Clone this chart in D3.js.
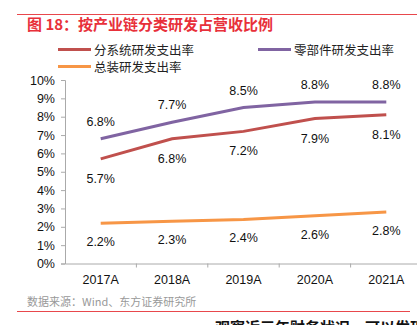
<!DOCTYPE html>
<html>
<head>
<meta charset="utf-8">
<script src="https://cdn.jsdelivr.net/npm/d3@7"></script>
<style>
  body { margin: 0; background: #fff; }
  svg { display: block; font-family: "Liberation Sans", Arial, "Noto Sans CJK SC", sans-serif; }
</style>
</head>
<body>
<svg width="417" height="325"></svg>
<script>
// chart data
const years = ["2017A", "2018A", "2019A", "2020A", "2021A"];
const subsystem = [5.7, 6.8, 7.2, 7.9, 8.1];   // 分系统研发支出率
const parts = [6.8, 7.7, 8.5, 8.8, 8.8];       // 零部件研发支出率
const assembly = [2.2, 2.3, 2.4, 2.6, 2.8];    // 总装研发支出率
const yTicks = d3.range(0, 11);

const series = [
  { name: "分系统研发支出率", values: subsystem, color: "#c0504d", dy: 20 },
  { name: "零部件研发支出率", values: parts, color: "#8064a2", dy: -17 },
  { name: "总装研发支出率", values: assembly, color: "#f79646", dy: 19 }
];

const svg = d3.select("svg");
const cjk = '"Noto Sans CJK SC", sans-serif';

// header / footer frame
svg.append("line").attr("x1", 17).attr("x2", 417).attr("y1", 14.5).attr("y2", 14.5)
  .attr("stroke", "#e8474c").attr("stroke-width", 1);
svg.append("text").attr("x", 27).attr("y", 30)
  .attr("fill", "#e8303a").attr("font-size", 15).attr("font-weight", "bold")
  .style("font-family", cjk)
  .text("图 18：按产业链分类研发占营收比例");

svg.append("text").attr("x", 27).attr("y", 306)
  .attr("fill", "#999").attr("font-size", 11).style("font-family", cjk)
  .text("数据来源：Wind、东方证券研究所");
svg.append("line").attr("x1", 17).attr("x2", 410).attr("y1", 311.5).attr("y2", 311.5)
  .attr("stroke", "#e8474c").attr("stroke-width", 1);
svg.append("text").attr("x", 215).attr("y", 333)
  .attr("fill", "#111").attr("font-size", 15).attr("font-weight", "bold")
  .style("font-family", cjk)
  .text("观察近三年财务状况，可以发现");

// scales
const x = d3.scaleBand().domain(years).range([65, 422]);
const y = d3.scaleLinear().domain([0, 10]).range([263.5, 80]);

// axes
const yAxis = svg.append("g").attr("transform", "translate(65,0)")
  .call(d3.axisLeft(y).tickValues(yTicks).tickFormat(d => d + "%").tickSize(4).tickPadding(6));
const xAxis = svg.append("g").attr("transform", "translate(0,263.5)")
  .call(d3.axisBottom(x).tickSize(0).tickPadding(12));
xAxis.selectAll(".tick")
  .append("line").attr("x1", x.bandwidth() / 2).attr("x2", x.bandwidth() / 2)
  .attr("y1", 0).attr("y2", 4);

svg.selectAll(".domain, .tick line").attr("stroke", "#aaa");
yAxis.selectAll("text").attr("font-size", 12.5).attr("fill", "#111")
  .style("font-family", "'Liberation Sans', Arial, sans-serif");
xAxis.selectAll("text").attr("font-size", 12.5).attr("fill", "#111")
  .style("font-family", "'Liberation Sans', Arial, sans-serif");

// lines and labels
const cx = d => x(d) + x.bandwidth() / 2;
const line = d3.line().x((v, i) => cx(years[i])).y(v => y(v));

series.forEach(s => {
  svg.append("path").datum(s.values)
    .attr("d", line).attr("fill", "none")
    .attr("stroke", s.color).attr("stroke-width", 3);
  svg.append("g").selectAll("text").data(s.values).join("text")
    .attr("x", (v, i) => cx(years[i]))
    .attr("y", v => y(v) + s.dy)
    .attr("text-anchor", "middle").attr("dominant-baseline", "central")
    .attr("font-size", 12.5).attr("fill", "#111")
    .text(v => v.toFixed(1) + "%");
});

// legend
const legendPos = [[58, 49.5], [258, 49.5], [58, 66.5]];
series.forEach((s, i) => {
  const [lx, ly] = legendPos[i];
  svg.append("line").attr("x1", lx).attr("x2", lx + 33).attr("y1", ly).attr("y2", ly)
    .attr("stroke", s.color).attr("stroke-width", 3);
  svg.append("text").attr("x", lx + 36).attr("y", ly)
    .attr("dominant-baseline", "central").attr("font-size", 12.5).attr("fill", "#222")
    .style("font-family", cjk)
    .text(s.name);
});
</script>
</body>
</html>
